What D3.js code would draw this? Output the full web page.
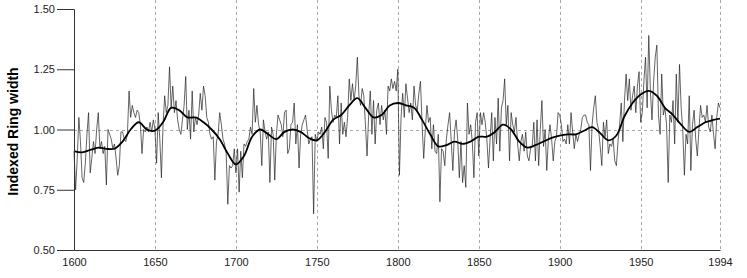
<!DOCTYPE html>
<html>
<head>
<meta charset="utf-8">
<script src="https://cdn.jsdelivr.net/npm/d3@7"></script>
<style>
  body { margin: 0; background: #fff; }
  text { font-family: "Liberation Sans", Arial, sans-serif; }
</style>
</head>
<body>
<script>
var width = 747, height = 278;
var marginLeft = 74, marginRight = 27, marginTop = 9, marginBottom = 28;

// annual ring width index
var startYear = 1600;
var ringIndex = [
  0.91, 0.75, 0.88, 1.05, 0.95, 0.80, 0.78, 0.86, 0.98, 1.07,
  0.82, 0.88, 0.95, 0.90, 1.00, 1.07, 0.92, 0.95, 0.90, 0.93,
  0.77, 1.00, 0.98, 0.96, 0.92, 0.94, 0.88, 0.81, 0.85, 0.99,
  0.99, 0.96, 0.95, 0.98, 1.16, 1.05, 1.10, 1.07, 1.05, 1.08,
  1.07, 1.02, 0.90, 1.00, 0.99, 1.01, 0.99, 1.03, 0.99, 1.04,
  1.00, 0.86, 1.07, 0.96, 0.80, 1.02, 1.14, 1.07, 1.10, 1.26,
  1.09, 1.18, 1.07, 1.12, 1.04, 1.00, 0.98, 1.04, 1.10, 1.22,
  1.00, 1.08, 0.96, 1.16, 0.99, 1.05, 1.02, 1.06, 1.15, 1.08,
  1.18, 1.14, 1.05, 1.03, 0.98, 0.96, 0.97, 0.79, 0.95, 0.98,
  1.07, 1.02, 0.96, 0.94, 0.90, 0.69, 0.85, 0.84, 0.85, 0.92,
  0.82, 0.92, 0.74, 0.91, 0.80, 0.94, 0.93, 0.95, 0.96, 1.01,
  0.98, 1.17, 1.03, 1.10, 1.02, 0.99, 0.85, 1.04, 0.99, 0.96,
  0.99, 0.78, 1.01, 0.98, 0.79, 0.98, 1.06, 1.04, 1.02, 0.97,
  1.07, 1.08, 0.90, 0.92, 1.02, 1.03, 1.11, 0.94, 1.02, 0.84,
  0.98, 1.02, 1.04, 1.06, 1.00, 0.94, 0.96, 0.97, 0.65, 0.98,
  0.95, 0.99, 0.98, 1.01, 0.92, 1.05, 1.03, 0.88, 1.18, 1.08,
  1.03, 1.06, 1.05, 1.14, 0.94, 1.11, 0.98, 1.03, 0.97, 1.05,
  1.21, 1.12, 1.19, 1.12, 1.18, 1.30, 1.14, 1.10, 1.17, 1.14,
  1.02, 0.89, 1.06, 1.16, 0.98, 1.12, 0.94, 1.08, 1.11, 1.02,
  1.10, 1.04, 1.08, 0.98, 1.18, 1.16, 1.21, 1.17, 1.20, 1.16,
  1.25, 0.81, 1.05, 1.15, 1.05, 1.19, 1.13, 1.07, 1.11, 1.04,
  1.18, 1.10, 1.08, 1.15, 1.20, 1.02, 0.88, 1.00, 1.10, 1.03,
  1.05, 0.92, 1.02, 0.91, 0.90, 0.98, 0.70, 0.92, 0.91, 0.85,
  0.96, 1.02, 1.07, 0.95, 0.83, 0.99, 1.04, 0.96, 0.80, 0.95,
  0.78, 0.85, 0.76, 1.11, 0.98, 1.02, 0.95, 0.80, 1.03, 1.07,
  0.89, 1.07, 1.02, 1.07, 1.03, 0.96, 0.84, 0.96, 1.07, 0.87,
  1.05, 0.94, 1.13, 0.91, 1.09, 1.12, 1.21, 1.02, 1.10, 0.87,
  1.07, 1.02, 0.99, 1.05, 0.94, 0.87, 0.95, 0.98, 0.91, 0.99,
  0.89, 0.87, 0.92, 0.93, 1.03, 0.87, 1.04, 0.85, 1.00, 1.12,
  0.93, 1.00, 0.83, 0.96, 1.02, 0.96, 0.87, 0.95, 0.97, 1.07,
  1.06, 1.02, 0.95, 0.96, 0.94, 1.02, 0.94, 1.07, 0.99, 0.92,
  0.98, 0.95, 0.98, 1.00, 1.05, 1.06, 1.06, 1.03, 1.02, 0.83,
  1.02, 1.09, 1.14, 1.03, 1.00, 0.93, 0.85, 1.03, 0.97, 1.04,
  0.90, 0.94, 0.93, 0.96, 0.87, 0.85, 0.95, 1.02, 1.11, 0.95,
  1.12, 1.23, 1.12, 1.21, 1.08, 1.14, 1.18, 1.07, 1.18, 1.24,
  1.03, 1.07, 1.20, 1.30, 1.09, 1.39, 1.16, 1.04, 1.20, 1.30,
  1.35, 1.06, 0.98, 1.23, 1.06, 1.09, 1.02, 0.78, 1.06, 1.03,
  1.12, 0.94, 1.23, 1.03, 1.27, 1.09, 1.00, 0.81, 0.98, 0.94,
  1.14, 0.83, 1.02, 1.08, 0.96, 0.89, 1.00, 1.10, 1.05, 1.06,
  1.03, 1.10, 1.01, 0.99, 1.06, 0.98, 0.92, 1.05, 1.11, 1.09
];

// smoothed curve read every 5 years
var smoothYears = [1600, 1605, 1610, 1615, 1620, 1625, 1630, 1635, 1640, 1645,
  1650, 1655, 1660, 1665, 1670, 1675, 1680, 1685, 1690, 1695,
  1700, 1705, 1710, 1715, 1720, 1725, 1730, 1735, 1740, 1745,
  1750, 1755, 1760, 1765, 1770, 1775, 1780, 1785, 1790, 1795,
  1800, 1805, 1810, 1815, 1820, 1825, 1830, 1835, 1840, 1845,
  1850, 1855, 1860, 1865, 1870, 1875, 1880, 1885, 1890, 1895,
  1900, 1905, 1910, 1915, 1920, 1925, 1930, 1935, 1940, 1945,
  1950, 1955, 1960, 1965, 1970, 1975, 1980, 1985, 1990, 1995, 1999];
var smoothValues = [0.91, 0.905, 0.915, 0.925, 0.92, 0.92, 0.95, 1.00, 1.03, 1.00,
  0.995, 1.03, 1.09, 1.08, 1.05, 1.05, 1.03, 1.00, 0.96, 0.90,
  0.855, 0.89, 0.97, 1.00, 0.98, 0.96, 0.99, 1.00, 0.99, 0.965,
  0.955, 0.99, 1.04, 1.06, 1.10, 1.13, 1.09, 1.05, 1.06, 1.10,
  1.11, 1.10, 1.09, 1.04, 0.98, 0.93, 0.935, 0.95, 0.94, 0.95,
  0.97, 0.97, 0.99, 1.02, 1.00, 0.95, 0.925, 0.935, 0.95, 0.965,
  0.975, 0.98, 0.98, 0.995, 1.01, 0.985, 0.955, 0.975, 1.055, 1.11,
  1.145, 1.16, 1.14, 1.09, 1.06, 1.02, 0.99, 1.01, 1.03, 1.04, 1.045];

var yTicks = [0.5, 0.75, 1.0, 1.25, 1.5];
// tick positions and the labels printed under them (the last one sits at the axis end)
var xTicks = [1600, 1650, 1700, 1750, 1800, 1850, 1900, 1950, 1999];
var xTickLabels = ["1600", "1650", "1700", "1750", "1800", "1850", "1900", "1950", "1994"];

var series = ringIndex.map(function (v, i) {
  return { year: startYear + i, value: v };
});
var smooth = smoothYears.map(function (y, i) {
  return { year: y, value: smoothValues[i] };
});

var x = d3.scaleLinear()
    .domain([startYear, startYear + ringIndex.length - 1])
    .range([marginLeft, width - marginRight]);
var y = d3.scaleLinear()
    .domain([0.5, 1.5])
    .range([height - marginBottom, marginTop]);

var svg = d3.select("body").append("svg")
    .attr("width", width)
    .attr("height", height);

// vertical dashed grid
svg.append("g")
    .selectAll("line")
    .data(xTicks.slice(1))
    .enter().append("line")
    .attr("x1", function (d) { return Math.round(x(d)) + 0.5; })
    .attr("x2", function (d) { return Math.round(x(d)) + 0.5; })
    .attr("y1", 0)
    .attr("y2", y(0.5))
    .attr("stroke", "#aaa")
    .attr("stroke-width", 1)
    .attr("stroke-dasharray", "3,3");

// reference line at 1.00
svg.append("line")
    .attr("x1", x.range()[0])
    .attr("x2", x.range()[1])
    .attr("y1", Math.round(y(1)) + 0.5)
    .attr("y2", Math.round(y(1)) + 0.5)
    .attr("stroke", "#aaa")
    .attr("stroke-width", 1)
    .attr("stroke-dasharray", "3,3");

var line = d3.line()
    .x(function (d) { return x(d.year); })
    .y(function (d) { return y(d.value); });

svg.append("path")
    .datum(series)
    .attr("fill", "none")
    .attr("stroke", "#222")
    .attr("stroke-width", 0.7)
    .attr("d", line);

svg.append("path")
    .datum(smooth)
    .attr("fill", "none")
    .attr("stroke", "#000")
    .attr("stroke-width", 1.8)
    .attr("d", line.curve(d3.curveCatmullRom));

// axes
var yAxis = svg.append("g")
    .attr("transform", "translate(" + marginLeft + ",0)")
    .call(d3.axisLeft(y).tickValues(yTicks).tickFormat(d3.format(".2f")).tickSize(17).tickPadding(2));
yAxis.select(".domain").attr("stroke", "#333");
yAxis.selectAll(".tick line").attr("stroke", "#333");
yAxis.selectAll("text").attr("font-size", 11).attr("fill", "#222");

var xAxis = svg.append("g")
    .attr("transform", "translate(0," + y(0.5) + ")")
    .call(d3.axisBottom(x).tickValues(xTicks)
      .tickFormat(function (d, i) { return xTickLabels[i]; })
      .tickSize(0).tickPadding(8));
xAxis.select(".domain").attr("stroke", "#333");
xAxis.selectAll("text").attr("font-size", 11).attr("fill", "#222");

svg.append("text")
    .attr("transform", "translate(18," + (y(1) + 2) + ") rotate(-90)")
    .attr("text-anchor", "middle")
    .attr("font-size", 14)
    .attr("font-weight", "bold")
    .text("Indexed Ring width");
</script>
</body>
</html>
